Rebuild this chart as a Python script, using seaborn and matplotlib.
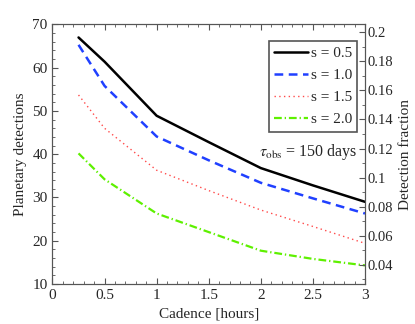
import numpy as np
import pandas as pd
import matplotlib
matplotlib.use("Agg")
import matplotlib.pyplot as plt
import seaborn as sns
from matplotlib.ticker import MultipleLocator, AutoMinorLocator

# data
cadence = [0.25, 0.5, 1.0, 1.5, 2.0, 2.5, 3.0]
s_labels = ["s = 0.5", "s = 1.0", "s = 1.5", "s = 2.0"]
det_s05 = [67.0, 61.4, 48.9, 42.8, 36.8, 32.8, 29.0]
det_s10 = [65.3, 55.8, 44.1, 38.6, 33.4, 29.8, 26.3]
det_s15 = [53.7, 46.0, 36.3, 31.6, 27.1, 23.3, 19.4]
det_s20 = [40.2, 34.2, 26.3, 22.0, 17.7, 15.8, 14.3]
x_ticks = [0, 0.5, 1, 1.5, 2, 2.5, 3]
x_ticklabels = ["0", "0.5", "1", "1.5", "2", "2.5", "3"]
frac_ticks = [0.04, 0.06, 0.08, 0.1, 0.12, 0.14, 0.16, 0.18, 0.2]
frac_ticklabels = ["0.04", "0.06", "0.08", "0.1", "0.12", "0.14", "0.16", "0.18", "0.2"]

# styles per series
colors = ["black", "#2040ff", "#ff4a4a", "#5ef000"]
widths = [1.8, 1.8, 1.0, 1.6]
dashes = [(None, None), (0, (3.5, 2.2)), (0, (1, 2.4)), (0, (3.5, 1.3, 0.6, 1.3))]

sns.set_style("ticks")
plt.rcParams["font.family"] = ["Liberation Serif", "DejaVu Serif"]
plt.rcParams["mathtext.fontset"] = "stix"
plt.rcParams["font.size"] = 11
plt.rcParams["xtick.direction"] = "in"
plt.rcParams["ytick.direction"] = "in"

fig = plt.figure(figsize=(4.15, 3.24), dpi=100)
ax = fig.add_axes([0.1265, 0.1235, 0.753, 0.8009])

for vals, lab, c, lw, d in zip([det_s05, det_s10, det_s15, det_s20], s_labels, colors, widths, dashes):
    line_df = pd.DataFrame({"cadence": cadence, "det": vals})
    sns.lineplot(data=line_df, x="cadence", y="det", color=c, linewidth=lw, label=lab, ax=ax)
    if d[1] is not None:
        ax.lines[-1].set_dashes(d[1])

ax.set_xticks(x_ticks, x_ticklabels)
ax.xaxis.set_minor_locator(AutoMinorLocator(5))
ax.yaxis.set_major_locator(MultipleLocator(10))
ax.yaxis.set_minor_locator(AutoMinorLocator(5))
ax.set_xlim(0, 3)
ax.set_ylim(10, 70)
ax.tick_params(which="both", top=True, labelsize=11, color="#555555")
ax.tick_params(which="major", length=4)
ax.tick_params(which="minor", length=2)
ax.set_xlabel("Cadence [hours]", fontsize=11)
ax.set_ylabel("Planetary detections", fontsize=11)
for sp in ax.spines.values():
    sp.set_color("#555555")

ax2 = ax.twinx()
ax2.set_yticks(frac_ticks, frac_ticklabels)
ax2.yaxis.set_minor_locator(AutoMinorLocator(2))
ax2.set_ylim(0.0267, 0.2054)
ax2.tick_params(which="both", direction="in", labelsize=10.5, color="#555555", pad=2)
ax2.tick_params(which="major", length=4)
ax2.tick_params(which="minor", length=2)
ax2.set_ylabel("Detection fraction", fontsize=11)
for sp in ax2.spines.values():
    sp.set_color("#555555")

leg = ax.legend(loc="upper right", bbox_to_anchor=(0.975, 0.937), title=None,
                fontsize=11, handlelength=2.2, handletextpad=0.2,
                fancybox=False, framealpha=1, borderpad=0.35, labelspacing=0.55,
                borderaxespad=0)
leg.get_frame().set_edgecolor("#555555")
leg.get_frame().set_linewidth(1.2)

ax.text(0.975, 0.51, r"$\tau_{\mathrm{obs}}$ = 150 days", transform=ax.transAxes,
        ha="right", va="center", fontsize=11.5)

fig.savefig("out.png", dpi=100)
